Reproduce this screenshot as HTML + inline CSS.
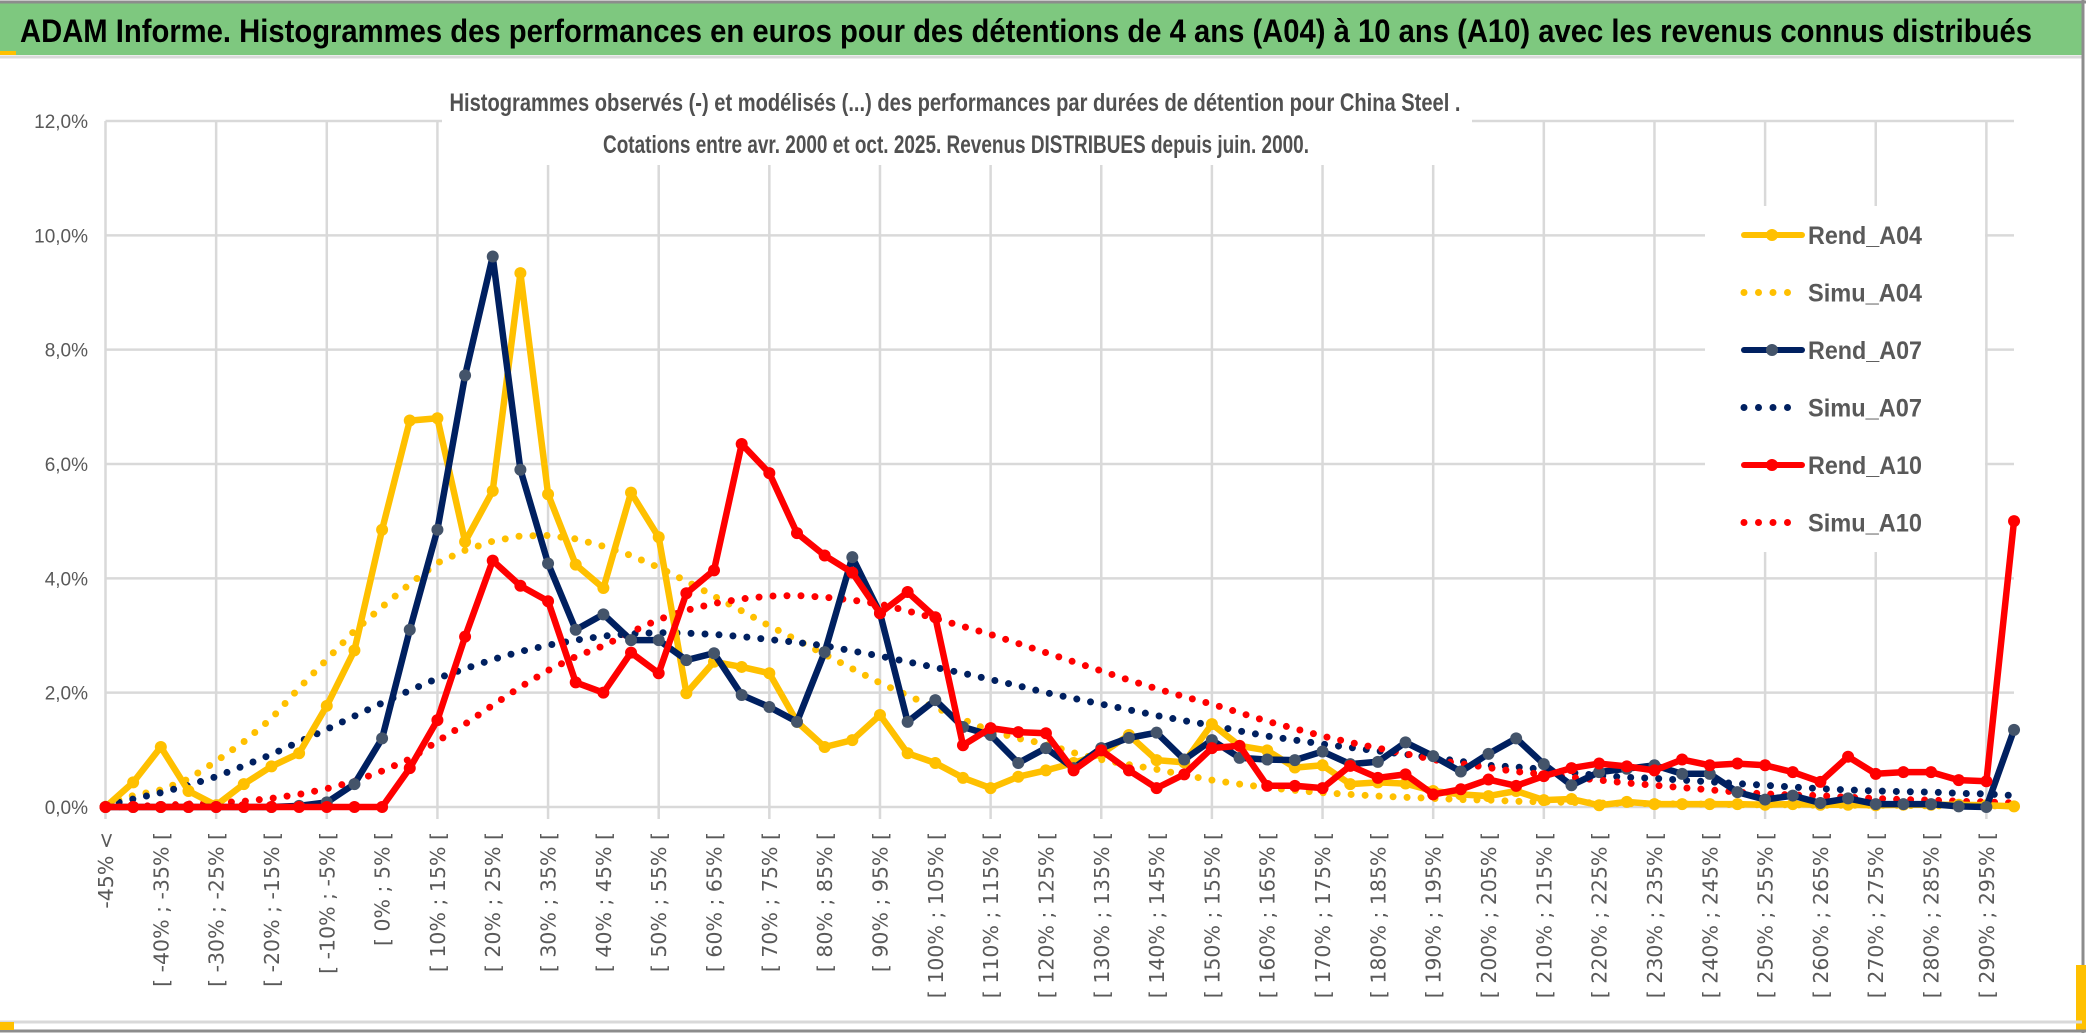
<!DOCTYPE html>
<html><head><meta charset="utf-8"><style>
html,body{margin:0;padding:0;background:#fff;}
svg{display:block;}
</style></head><body>
<svg id="chart" width="2086" height="1033" viewBox="0 0 2086 1033" xmlns="http://www.w3.org/2000/svg">
<rect x="0" y="0" width="2086" height="1033" fill="#fff"/>
<rect x="0" y="3" width="2082" height="52" fill="#7ec87f"/>
<line x1="0" y1="2" x2="2086" y2="2" stroke="#8c8c8c" stroke-width="3"/>
<line x1="0" y1="57" x2="2082" y2="57" stroke="#d9d9d9" stroke-width="3"/>
<rect x="0" y="51" width="16" height="4" fill="#ffc000"/>
<text x="20" y="42" font-family="Liberation Sans, sans-serif" font-weight="bold" font-size="32" fill="#000" textLength="2012" lengthAdjust="spacingAndGlyphs">ADAM Informe. Histogrammes des performances en euros pour des détentions de 4 ans (A04) à 10 ans (A10) avec les revenus connus distribués</text>
<line x1="2083" y1="0" x2="2083" y2="1033" stroke="#8c8c8c" stroke-width="3"/>
<rect x="2076" y="965" width="10" height="65" fill="#ffc000"/>
<line x1="0" y1="1022" x2="2082" y2="1022" stroke="#d9d9d9" stroke-width="3"/>
<line x1="0" y1="1031" x2="2086" y2="1031" stroke="#8c8c8c" stroke-width="3"/>
<rect x="0" y="1022" width="14" height="8" fill="#ffc000"/>
<g id="grid"></g>
<rect x="442" y="70" width="1030" height="95" fill="#fff"/>
<text x="955" y="111" text-anchor="middle" font-family="Liberation Sans, sans-serif" font-weight="600" font-size="25" fill="#505050" textLength="1011" lengthAdjust="spacingAndGlyphs">Histogrammes observés (-) et modélisés (...) des performances par durées de détention pour China Steel .</text>
<text x="956" y="153" text-anchor="middle" font-family="Liberation Sans, sans-serif" font-weight="600" font-size="25" fill="#505050" textLength="706" lengthAdjust="spacingAndGlyphs">Cotations entre avr. 2000 et oct. 2025. Revenus DISTRIBUES depuis juin. 2000.</text>
<rect x="1705" y="206" width="280" height="346" fill="#fff"/>
<g id="yaxis"></g>
<g id="xaxis"></g>
<g id="series"></g>
<g id="legend"></g>
</svg>
<script>
const yTicks = [0, 2, 4, 6, 8, 10, 12];
const yTickLabels = ["0,0%", "2,0%", "4,0%", "6,0%", "8,0%", "10,0%", "12,0%"];
const rendA04 = [0,0.43,1.05,0.28,0.03,0.4,0.71,0.94,1.77,2.74,
4.85,6.76,6.8,4.64,5.53,9.34,5.47,4.24,3.83,5.5,
4.72,1.99,2.54,2.45,2.34,1.49,1.05,1.17,1.61,0.94,
0.77,0.51,0.33,0.53,0.64,0.77,0.93,1.26,0.82,0.78,
1.45,1.07,0.99,0.69,0.73,0.4,0.43,0.41,0.28,0.22,
0.19,0.28,0.12,0.14,0.03,0.09,0.05,0.05,0.05,0.05,
0.04,0.05,0.04,0.04,0.03,0.04,0.04,0.04,0.03,0.01];
const rendA07 = [0,0,0,0,0,0,0,0.02,0.08,0.4,
1.2,3.1,4.85,7.55,9.63,5.9,4.26,3.1,3.37,2.92,
2.92,2.57,2.69,1.96,1.75,1.49,2.71,4.37,3.39,1.49,
1.87,1.4,1.26,0.77,1.03,0.68,1.03,1.21,1.3,0.83,
1.17,0.86,0.83,0.82,0.97,0.75,0.79,1.13,0.89,0.62,
0.93,1.2,0.75,0.38,0.61,0.67,0.73,0.58,0.58,0.26,
0.13,0.2,0.07,0.15,0.05,0.05,0.05,0.01,0,1.35];
const rendA10 = [0,0,0,0,0,0,0,0,0,0,
0,0.68,1.52,2.98,4.31,3.87,3.6,2.18,2.0,2.7,
2.34,3.74,4.14,6.35,5.84,4.79,4.4,4.1,3.39,3.76,
3.32,1.08,1.38,1.31,1.29,0.64,0.99,0.64,0.33,0.57,
1.03,1.07,0.37,0.37,0.33,0.72,0.51,0.57,0.22,0.31,
0.48,0.37,0.54,0.68,0.76,0.71,0.64,0.83,0.73,0.76,
0.73,0.61,0.44,0.88,0.58,0.61,0.61,0.47,0.45,5.0];
const simuA04 = [0.05,0.2,0.3,0.49,0.8,1.14,1.55,2.08,2.58,3.08,
3.5,3.9,4.27,4.49,4.65,4.74,4.75,4.69,4.56,4.4,
4.19,3.95,3.69,3.43,3.17,2.92,2.67,2.42,2.17,1.95,
1.74,1.53,1.33,1.2,1.1,0.95,0.83,0.74,0.66,0.56,
0.47,0.4,0.34,0.29,0.25,0.22,0.19,0.17,0.15,0.13,
0.12,0.1,0.09,0.08,0.07,0.06,0.06,0.05,0.05,0.04,
0.04,0.04,0.03,0.03,0.03,0.03,0.02,0.02,0.02,0.02];
const simuA07 = [0.03,0.14,0.25,0.38,0.53,0.72,0.92,1.14,1.36,1.59,
1.82,2.04,2.25,2.42,2.58,2.72,2.83,2.92,2.99,3.03,
3.05,3.04,3.02,2.98,2.93,2.88,2.82,2.73,2.64,2.54,
2.44,2.34,2.23,2.12,2.0,1.9,1.8,1.7,1.6,1.51,
1.43,1.33,1.24,1.17,1.1,1.04,0.98,0.92,0.86,0.8,
0.73,0.7,0.66,0.6,0.55,0.52,0.5,0.47,0.44,0.41,
0.38,0.35,0.32,0.3,0.28,0.27,0.26,0.24,0.23,0.2];
const simuA10 = [0,0.01,0.03,0.05,0.07,0.1,0.15,0.22,0.32,0.45,
0.63,0.84,1.15,1.45,1.78,2.1,2.39,2.63,2.82,3.06,
3.28,3.44,3.56,3.64,3.69,3.7,3.67,3.62,3.55,3.43,
3.3,3.16,3.02,2.86,2.7,2.54,2.38,2.22,2.07,1.93,
1.8,1.65,1.5,1.37,1.24,1.13,1.03,0.93,0.83,0.76,
0.69,0.62,0.57,0.52,0.47,0.42,0.38,0.34,0.3,0.26,
0.23,0.21,0.2,0.17,0.15,0.13,0.12,0.1,0.09,0.07];
const categories = ["-45% <"];
for (let i = 1; i < 70; i++) { const lo = -50 + 5 * i; categories.push("[ " + lo + "% ; " + (lo + 5) + "% ["); }

const NS = "http://www.w3.org/2000/svg";
const X0 = 105.5, DX = 27.66, Y0 = 807, YMAX = 12, YTOP = 121, XRIGHT = 2014;
function xScale(i) { return X0 + i * DX; }
function yScale(v) { return Y0 - (v / YMAX) * (Y0 - YTOP); }
function mk(tag, attrs, parent) {
  const e = document.createElementNS(NS, tag);
  for (const k in attrs) e.setAttribute(k, attrs[k]);
  parent.appendChild(e);
  return e;
}
const grid = document.getElementById("grid");
yTicks.forEach(function (t) {
  const l = mk("line", {x1: X0, x2: XRIGHT, y1: yScale(t), y2: yScale(t), stroke: "#d9d9d9", "stroke-width": 2.5}, grid);
  
  
});
for (let i = 0; i < categories.length; i += 4) {
  const l = mk("line", {x1: xScale(i), x2: xScale(i), y1: YTOP, y2: Y0 + 12, stroke: "#d9d9d9", "stroke-width": 2.5}, grid);
  
  
}
const yaxis = document.getElementById("yaxis");
yTicks.forEach(function (t, k) {
  const tx = mk("text", {x: 88, y: yScale(t) + 7, "text-anchor": "end", "font-family": "Liberation Sans, sans-serif", "font-size": 19, fill: "#595959"}, yaxis);
  tx.textContent = yTickLabels[k];
  
  
});
const xaxis = document.getElementById("xaxis");
for (let i = 0; i < categories.length - 1; i += 2) {
  const x = xScale(i) + 7.5, y = 832;
  const tx = mk("text", {x: x, y: y, transform: "rotate(-90 " + x + " " + y + ")", "text-anchor": "end", "font-family": "DejaVu Sans, sans-serif", "font-size": 20.5, fill: "#595959"}, xaxis);
  tx.textContent = categories[i];
  
  
}
const seriesG = document.getElementById("series");
function pts(arr) { return arr.map(function (v, i) { return xScale(i).toFixed(1) + "," + yScale(v).toFixed(1); }).join(" "); }
function dotted(arr, color, name) {
  const p = mk("polyline", {points: pts(arr), fill: "none", stroke: color, "stroke-width": 7, "stroke-linecap": "round", "stroke-dasharray": "0 14"}, seriesG);
  
  
}
function solid(arr, color, mcolor, name) {
  const p = mk("polyline", {points: pts(arr), fill: "none", stroke: color, "stroke-width": 6.5, "stroke-linejoin": "round"}, seriesG);
  
  
  arr.forEach(function (v, i) {
    const c = mk("circle", {cx: xScale(i), cy: yScale(v), r: 6, fill: mcolor}, seriesG);
    
    
  });
}
dotted(simuA04, "#ffc000", "simu-a04-line");
dotted(simuA07, "#002060", "simu-a07-line");
dotted(simuA10, "#ff0000", "simu-a10-line");
solid(rendA04, "#ffc000", "#ffc000", "rend-a04-line");
solid(rendA07, "#002060", "#44546a", "rend-a07-line");
solid(rendA10, "#ff0000", "#ff0000", "rend-a10-line");

const legendNames = ["Rend_A04", "Simu_A04", "Rend_A07", "Simu_A07", "Rend_A10", "Simu_A10"];
const legendColors = ["#ffc000", "#ffc000", "#002060", "#002060", "#ff0000", "#ff0000"];
const legendMarkers = ["#ffc000", null, "#44546a", null, "#ff0000", null];
const lg = document.getElementById("legend");
legendNames.forEach(function (n, k) {
  const y = 235 + k * 57.5;
  const g = mk("g", {}, lg);
  
  
  if (legendMarkers[k]) {
    mk("line", {x1: 1744, x2: 1802, y1: y, y2: y, stroke: legendColors[k], "stroke-width": 6, "stroke-linecap": "round"}, g);
    mk("circle", {cx: 1772, cy: y, r: 6, fill: legendMarkers[k]}, g);
  } else {
    mk("line", {x1: 1744, x2: 1792, y1: y, y2: y, stroke: legendColors[k], "stroke-width": 7, "stroke-linecap": "round", "stroke-dasharray": "0 14.5"}, g);
  }
  const t = mk("text", {x: 1808, y: y + 9, "font-family": "Liberation Sans, sans-serif", "font-size": 25, "font-weight": "bold", fill: "#595959", textLength: 114, lengthAdjust: "spacingAndGlyphs"}, g);
  t.textContent = n;
});
</script>
</body></html>
